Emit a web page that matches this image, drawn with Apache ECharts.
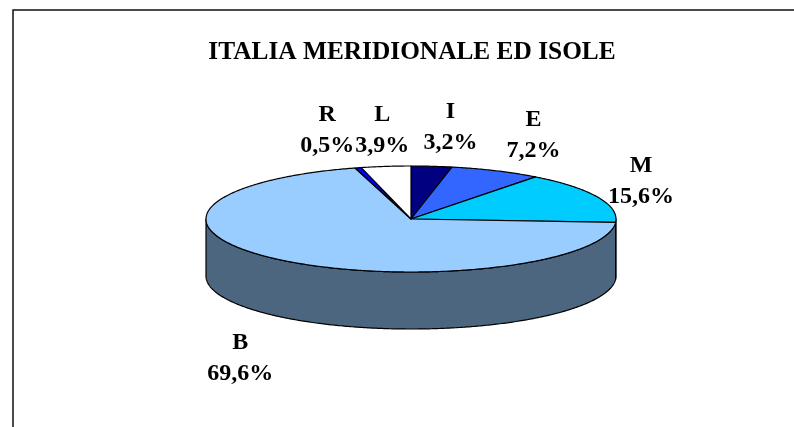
<!DOCTYPE html>
<html>
<head>
<meta charset="utf-8">
<script src="https://cdn.jsdelivr.net/npm/echarts@6/dist/echarts.min.js"></script>
<style>
html,body{margin:0;padding:0;background:#fff;}
#chart{width:794px;height:427px;}
</style>
</head>
<body>
<div id="chart"></div>
<script>
// ---- data ----
const titleText = 'ITALIA MERIDIONALE ED ISOLE';
const categories = ['I', 'E', 'M', 'B', 'R', 'L'];
const values = [3.2, 7.2, 15.6, 69.6, 0.5, 3.9];
const colors = ['#000080', '#3366FF', '#00CCFF', '#99CCFF', '#0000FF', '#FFFFFF'];

// ---- layout (3D pie projection) ----
const CX = 411, CY = 219, RX = 205, RY = 53, DEPTH = 57;
const LRX = 248, LPOW = 0.8, LRY = 92, FRONT_EXTRA = 11;
const LABEL_FONT = 'bold 24px "Liberation Serif"';
const LABEL_LH = 31;

const total = values.reduce((a, b) => a + b, 0);
const cum = [];
values.reduce((acc, v, i) => { cum[i] = acc; return acc + v; }, 0);

function pt(theta, dy) {
  return [CX + RX * Math.sin(theta), CY - RY * Math.cos(theta) + (dy || 0)];
}
function arc(a0, a1, dy) {
  const n = Math.max(2, Math.ceil(Math.abs(a1 - a0) / 0.01));
  const out = [];
  for (let k = 0; k <= n; k++) out.push(pt(a0 + (a1 - a0) * k / n, dy));
  return out;
}
function fmt(v) { return v.toFixed(1).replace('.', ',') + '%'; }
function darken(hex, f) {
  const n = parseInt(hex.slice(1), 16);
  const r = Math.round(((n >> 16) & 255) * f), g = Math.round(((n >> 8) & 255) * f), b = Math.round((n & 255) * f);
  return 'rgb(' + r + ',' + g + ',' + b + ')';
}

// label positions derived from slice mid-angles, then overlapping labels pushed rightwards
const measureCtx = document.createElement('canvas').getContext('2d');
measureCtx.font = LABEL_FONT;
const labels = values.map((v, i) => {
  const mid = 2 * Math.PI * (cum[i] + v / 2) / total;
  const s = Math.sin(mid), c = Math.cos(mid);
  const text = categories[i] + '\n' + fmt(v);
  const w = Math.max(measureCtx.measureText(categories[i]).width, measureCtx.measureText(fmt(v)).width);
  const x = CX + LRX * Math.sign(s) * Math.pow(Math.abs(s), LPOW);
  return { i, text, w, x: x, y: CY - LRY * c + (c < 0 ? DEPTH + FRONT_EXTRA : 0) };
});
(function resolve() {
  const GAP = 1;
  const top = labels.filter(l => l.y < CY - 60).sort((a, b) => a.x - b.x);
  for (let k = 1; k < top.length; k++) {
    const p = top[k - 1], l = top[k];
    if (Math.abs(p.y - l.y) < 2 * LABEL_LH) {
      const minX = p.x + (p.w + l.w) / 2 + GAP;
      if (l.x < minX) { l.x = minX; l.y = p.y; }
    }
  }
})();

const chart = echarts.init(document.getElementById('chart'), null, { renderer: 'canvas' });
chart.setOption({
  backgroundColor: '#fff',
  animation: false,
  graphic: [{
    type: 'rect',
    shape: { x: 13, y: 10, width: 900, height: 900 },
    style: { fill: 'none', stroke: '#111', lineWidth: 1.5 },
    silent: true
  }, {
    type: 'text',
    x: 412, y: 52, scaleX: 0.975,
    style: {
      text: titleText, align: 'center', verticalAlign: 'middle',
      font: 'bold 26px "Liberation Serif"', fill: '#000'
    },
    silent: true
  }],
  series: [{
    type: 'custom',
    coordinateSystem: 'none',
    data: values.map((v, i) => ({ name: categories[i], value: v })),
    renderItem: function (params, api) {
      const i = params.dataIndex;
      const v = api.value(0);
      const a0 = 2 * Math.PI * cum[i] / total;
      const a1 = 2 * Math.PI * (cum[i] + v) / total;
      const children = [];
      // side wall (front half only: PI/2 .. 3PI/2)
      const s = Math.max(a0, Math.PI / 2), e = Math.min(a1, 3 * Math.PI / 2);
      if (e > s) {
        const pts = arc(s, e, 0).concat(arc(e, s, DEPTH));
        children.push({
          type: 'polygon', z2: 1,
          shape: { points: pts },
          style: { fill: darken(colors[i], 0.5), stroke: '#000', lineWidth: 1.2, lineJoin: 'round' }
        });
      }
      // top face
      children.push({
        type: 'polygon', z2: 5,
        shape: { points: [[CX, CY]].concat(arc(a0, a1, 0)) },
        style: { fill: colors[i], stroke: '#000', lineWidth: 1.2, lineJoin: 'round' }
      });
      const L = labels[i];
      children.push({
        type: 'text', z2: 10,
        x: L.x, y: L.y,
        style: {
          text: L.text, align: 'center', verticalAlign: 'middle',
          font: LABEL_FONT, lineHeight: LABEL_LH, fill: '#000'
        }
      });
      return { type: 'group', children: children };
    }
  }]
});
</script>
</body>
</html>
